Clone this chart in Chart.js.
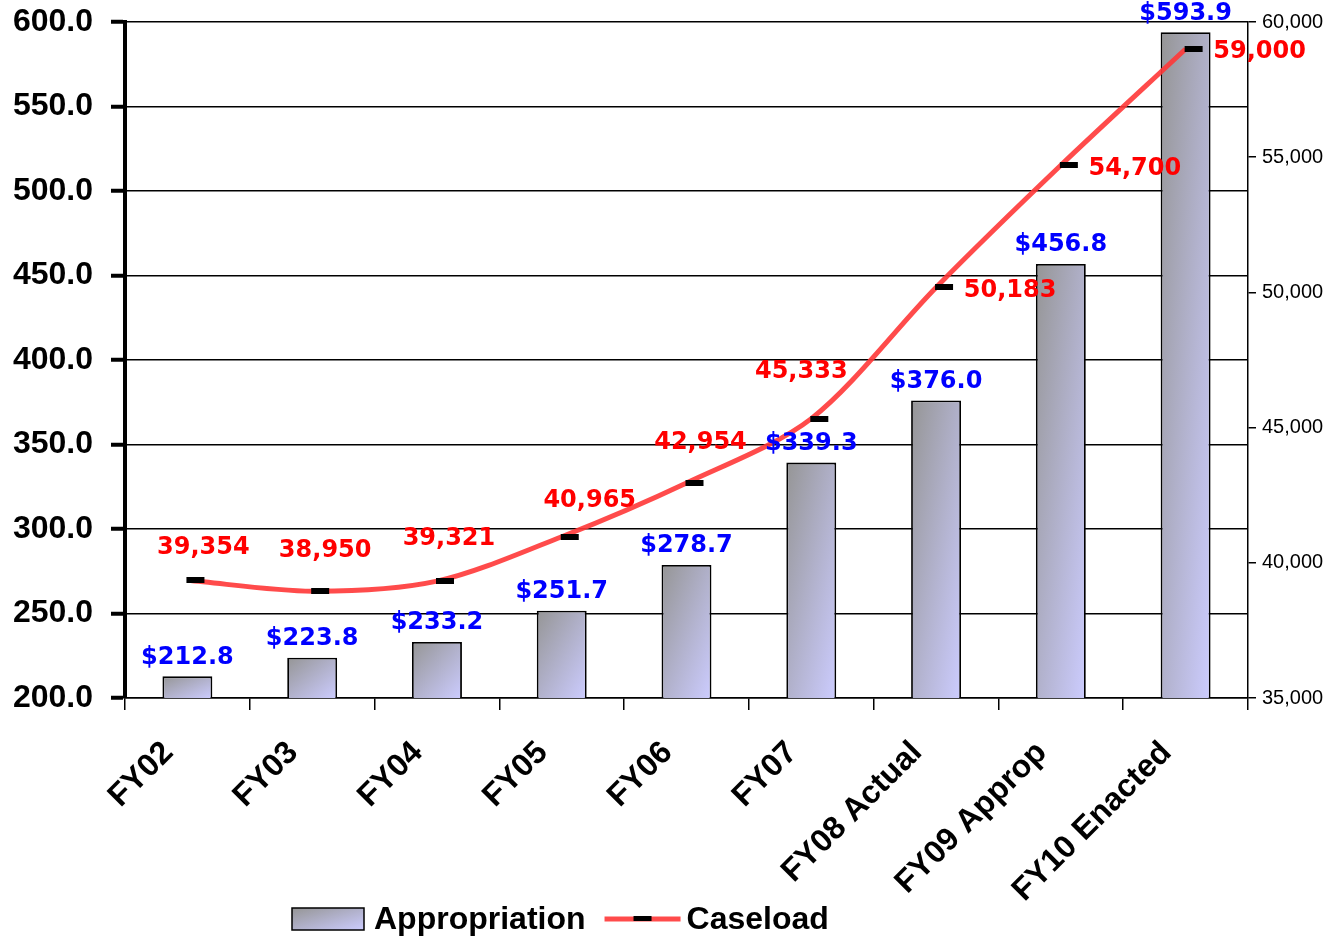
<!DOCTYPE html>
<html>
<head>
<meta charset="utf-8">
<script src="https://cdn.jsdelivr.net/npm/chart.js@4"></script>
<style>
  html, body { margin: 0; padding: 0; background: #fff; }
  #wrap { width: 1329px; height: 940px; }
</style>
</head>
<body>
<div id="wrap"><canvas id="grafico" width="1329" height="940"></canvas></div>
<script>
// datos
const categorias = ['FY02', 'FY03', 'FY04', 'FY05', 'FY06', 'FY07', 'FY08 Actual', 'FY09 Approp', 'FY10 Enacted'];
const asignacion = [212.8, 223.8, 233.2, 251.7, 278.7, 339.3, 376.0, 456.8, 593.9];
const casos = [39354, 38950, 39321, 40965, 42954, 45333, 50183, 54700, 59000];
const ticksIzq = [200, 250, 300, 350, 400, 450, 500, 550, 600];
const ticksDer = [35000, 40000, 45000, 50000, 55000, 60000];

// desplazamiento de las etiquetas rojas respecto al punto (solo estilo)
const desplRojo = [[16, -33], [13, -40], [12, -42], [28, -36], [14, -40], [-10, -47], [74, 3], [74, 3], [74, 3]];

const GRIS = '#959595';
const LILA = '#ccccff';
const ROJO = 'rgba(255, 55, 55, 0.9)';

// degradado diagonal dentro de cada barra (como el de Excel)
function degradado(ctx, x0, y0, w, h) {
  const a = 2 / (1 / (w * w) + 1 / (h * h));
  const g = ctx.createLinearGradient(x0, y0, x0 + a / w, y0 + a / h);
  g.addColorStop(0, GRIS);
  g.addColorStop(1, LILA);
  return g;
}

function colorBarra(context) {
  const chart = context.chart;
  const sx = chart.scales.x, sy = chart.scales.y;
  if (!sx || !sy || context.dataIndex === undefined || !(sx.width > 0)) return LILA;
  const ancho = sx.width / categorias.length * 0.4;
  const xc = sx.getPixelForValue(context.dataIndex);
  const top = sy.getPixelForValue(asignacion[context.dataIndex]);
  const base = sy.getPixelForValue(ticksIzq[0]);
  if (![ancho, xc, top, base].every(Number.isFinite)) return LILA;
  return degradado(chart.ctx, xc - ancho / 2, top, ancho, Math.max(base - top, 1));
}

// marcador en forma de guion, algo corrido a la derecha como en el original
const marcador = document.createElement('canvas');
marcador.width = 36;
marcador.height = 6;
(function () {
  const c = marcador.getContext('2d');
  c.fillStyle = '#000';
  c.fillRect(17, 0, 18, 6);
})();

const etiquetas = {
  id: 'etiquetas',
  afterDatasetsDraw(chart) {
    const ctx = chart.ctx;
    ctx.save();
    ctx.font = 'bold 24px "DejaVu Sans"';
    ctx.textAlign = 'center';
    // valores de las barras
    ctx.fillStyle = '#0000ff';
    ctx.textBaseline = 'bottom';
    chart.getDatasetMeta(1).data.forEach((el, i) => {
      ctx.fillText('$' + asignacion[i].toFixed(1), el.x, el.y - 7);
    });
    // valores de la linea
    ctx.fillStyle = '#ff0000';
    ctx.textBaseline = 'middle';
    chart.getDatasetMeta(0).data.forEach((el, i) => {
      const d = desplRojo[i];
      ctx.fillText(casos[i].toLocaleString('en-US'), el.x + d[0], el.y + d[1]);
    });
    ctx.restore();
  }
};

const leyenda = {
  id: 'leyenda',
  afterDraw(chart) {
    const ctx = chart.ctx;
    const y = 919;
    let x = 292;
    ctx.save();
    ctx.fillStyle = degradado(ctx, x, y - 11, 72, 22);
    ctx.fillRect(x, y - 11, 72, 22);
    ctx.strokeStyle = '#000';
    ctx.lineWidth = 1.5;
    ctx.strokeRect(x, y - 11, 72, 22);
    x += 82;
    ctx.font = 'bold 32px "Liberation Sans"';
    ctx.fillStyle = '#000';
    ctx.textBaseline = 'middle';
    ctx.textAlign = 'left';
    ctx.fillText('Appropriation', x, y + 1);
    x += ctx.measureText('Appropriation').width + 19;
    ctx.strokeStyle = ROJO;
    ctx.lineWidth = 5;
    ctx.beginPath();
    ctx.moveTo(x, y);
    ctx.lineTo(x + 76, y);
    ctx.stroke();
    ctx.fillStyle = '#000';
    ctx.fillRect(x + 29, y - 3, 18, 5);
    x += 82;
    ctx.fillText('Caseload', x, y + 1);
    ctx.restore();
  }
};

new Chart(document.getElementById('grafico'), {
  data: {
    labels: categorias,
    datasets: [
      {
        type: 'line',
        label: 'Caseload',
        data: casos,
        yAxisID: 'y1',
        order: 0,
        borderColor: ROJO,
        borderWidth: 5,
        tension: 0.3,
        pointStyle: marcador,
        pointRadius: 9
      },
      {
        type: 'bar',
        label: 'Appropriation',
        data: asignacion,
        yAxisID: 'y',
        order: 1,
        backgroundColor: colorBarra,
        borderColor: '#000',
        borderWidth: 1.8,
        borderSkipped: false,
        barPercentage: 0.4,
        categoryPercentage: 1
      }
    ]
  },
  options: {
    responsive: false,
    animation: false,
    layout: { padding: { top: 22, left: 0, right: 0, bottom: 0 } },
    plugins: {
      legend: { display: false },
      tooltip: { enabled: false }
    },
    scales: {
      x: {
        offset: true,
        grid: { offset: true, drawOnChartArea: false, color: '#000', tickLength: 12, lineWidth: 1.5 },
        border: { color: '#000', width: 1.5 },
        ticks: {
          color: '#000',
          font: { family: 'Liberation Sans', weight: 'bold', size: 32 },
          maxRotation: 45,
          minRotation: 45,
          padding: 24,
          labelOffset: -19,
          autoSkip: false
        },
        afterFit: s => { s.height = 242; s.paddingLeft = 0; s.paddingRight = 0; }
      },
      y: {
        position: 'left',
        min: 200,
        max: 600,
        afterBuildTicks: s => { s.ticks = ticksIzq.map(v => ({ value: v })); },
        grid: { color: '#000', lineWidth: 1.5, tickLength: 14, tickColor: '#000', tickWidth: 4 },
        border: { color: '#000', width: 4 },
        ticks: {
          color: '#000',
          padding: 18,
          font: { family: 'Liberation Sans', weight: 'bold', size: 32 },
          callback: v => Number(v).toFixed(1)
        },
        afterFit: s => { s.width = 125; s.paddingTop = 0; s.paddingBottom = 0; }
      },
      y1: {
        position: 'right',
        min: 35000,
        max: 60000,
        afterBuildTicks: s => { s.ticks = ticksDer.map(v => ({ value: v })); },
        grid: { drawOnChartArea: false, color: '#000', tickLength: 8, lineWidth: 1.5 },
        border: { color: '#000', width: 1.5 },
        ticks: {
          color: '#000',
          padding: 6,
          font: { family: 'Liberation Sans', size: 20 },
          callback: v => Number(v).toLocaleString('en-US')
        },
        afterFit: s => { s.width = 81; s.paddingTop = 0; s.paddingBottom = 0; }
      }
    }
  },
  plugins: [etiquetas, leyenda]
});
</script>
</body>
</html>
